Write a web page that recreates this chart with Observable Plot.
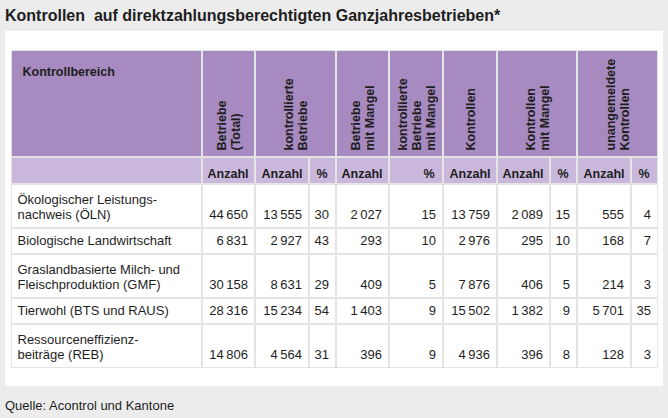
<!DOCTYPE html>
<html>
<head>
<meta charset="utf-8">
<script src="https://cdn.jsdelivr.net/npm/d3@7"></script>
<script src="https://cdn.jsdelivr.net/npm/@observablehq/plot@0.6"></script>
<style>
html, body { margin: 0; padding: 0; background: #ececec; }
body { position: relative; width: 668px; height: 418px; overflow: hidden; font-family: "Liberation Sans", Arial, sans-serif; color: #1e1e1e; }
#title { position: absolute; left: 5px; top: 5.5px; font-size: 16px; line-height: 20px; font-weight: bold; white-space: pre; }
#chart { position: absolute; left: 0; top: 31px; width: 668px; height: 357px; }
#caption { position: absolute; left: 5px; top: 397.5px; font-size: 13px; line-height: 16px; white-space: pre; }
</style>
</head>
<body>
<div id="title"></div>
<div id="chart"></div>
<div id="caption"></div>
<script>
// ---------------- data ----------------
const title = "Kontrollen  auf direktzahlungsberechtigten Ganzjahresbetrieben*";
const source = "Quelle: Acontrol und Kantone";
const firstHeader = "Kontrollbereich";

const categories = [
  "Ökologischer Leistungs-\nnachweis (ÖLN)",
  "Biologische Landwirtschaft",
  "Graslandbasierte Milch- und\nFleischproduktion (GMF)",
  "Tierwohl (BTS und RAUS)",
  "Ressourceneffizienz-\nbeiträge (REB)"
];

const betriebeTotal          = [44650, 6831, 30158, 28316, 14806];
const kontrBetriebe          = [13555, 2927, 8631, 15234, 4564];
const kontrBetriebePct       = [30, 43, 29, 54, 31];
const betriebeMitMangel      = [2027, 293, 409, 1403, 396];
const kontrBetriebeMangelPct = [15, 10, 5, 9, 9];
const kontrollen             = [13759, 2976, 7876, 15502, 4936];
const kontrollenMitMangel    = [2089, 295, 406, 1382, 396];
const kontrollenMangelPct    = [15, 10, 5, 9, 8];
const unangemeldete          = [555, 168, 214, 5701, 128];
const unangemeldetePct       = [4, 7, 3, 35, 3];

const series = [betriebeTotal, kontrBetriebe, kontrBetriebePct, betriebeMitMangel,
  kontrBetriebeMangelPct, kontrollen, kontrollenMitMangel, kontrollenMangelPct,
  unangemeldete, unangemeldetePct];

const units = ["Anzahl", "Anzahl", "%", "Anzahl", "%", "Anzahl", "Anzahl", "%", "Anzahl", "%"];

const columnHeaders = ["Betriebe\n(Total)", "kontrollierte\nBetriebe", "Betriebe\nmit Mangel",
  "kontrollierte\nBetriebe\nmit Mangel", "Kontrollen", "Kontrollen\nmit Mangel", "unangemeldete\nKontrollen"];
const headerSpans = [1, 2, 1, 1, 1, 2, 2];

// ---------------- layout ----------------
const colEdges = [11, 202, 255, 309, 336, 389, 443, 497, 550, 577, 631, 658];
const headTop = 50, headBottom = 157, subBottom = 184;
const rowEdges = [184, 228, 254, 298, 324, 368];
const panel = {x1: 5, x2: 663, y1: 31, y2: 386};
const purple = "#a68ac0", lightPurple = "#c9b8db", gridColor = "#e4e4e4", ink = "#1e1e1e";

document.getElementById("title").textContent = title;
document.getElementById("caption").textContent = source;

const fmt = d3.formatLocale({decimal: ",", thousands: "\u2009", grouping: [3], currency: ["", ""]}).format(",d");

const headCells = [{label: "", x1: colEdges[0], x2: colEdges[1]}];
let c = 1;
columnHeaders.forEach((h, k) => {
  headCells.push({label: h, x1: colEdges[c], x2: colEdges[c + headerSpans[k]]});
  c += headerSpans[k];
});
const subCells = [{label: "", x1: colEdges[0], x2: colEdges[1], unit: ""}]
  .concat(units.map((u, j) => ({label: u, unit: u, x1: colEdges[j + 1], x2: colEdges[j + 2]})));

const labelCells = categories.map((cat, i) => ({text: cat, x1: colEdges[0], x2: colEdges[1], y1: rowEdges[i], y2: rowEdges[i + 1]}));
const valueCells = [];
categories.forEach((cat, i) => {
  series.forEach((s, j) => {
    valueCells.push({
      text: units[j] === "%" ? String(s[i]) : fmt(s[i]),
      x1: colEdges[j + 1], x2: colEdges[j + 2], y1: rowEdges[i], y2: rowEdges[i + 1]
    });
  });
});

const chart = Plot.plot({
  width: 668,
  height: 357,
  margin: 0,
  x: {domain: [0, 668], range: [0, 668], axis: null},
  y: {domain: [31, 388], range: [0, 357], axis: null},
  style: {background: "transparent", fontFamily: "'Liberation Sans', Arial, sans-serif", overflow: "visible"},
  marks: [
    Plot.rect([panel], {x1: "x1", x2: "x2", y1: "y1", y2: "y2", fill: "#ffffff"}),
    Plot.rect([{x1: colEdges[0], x2: colEdges[colEdges.length - 1], y1: headTop, y2: rowEdges[rowEdges.length - 1]}],
      {x1: "x1", x2: "x2", y1: "y1", y2: "y2", fill: gridColor}),
    Plot.rect(headCells, {x1: "x1", x2: "x2", y1: () => headTop, y2: () => headBottom, inset: 1, fill: purple}),
    Plot.rect(subCells, {x1: "x1", x2: "x2", y1: () => headBottom, y2: () => subBottom, inset: 1, fill: lightPurple}),
    Plot.rect(labelCells.concat(valueCells), {x1: "x1", x2: "x2", y1: "y1", y2: "y2", inset: 1, fill: "#ffffff"}),
    // header texts
    Plot.text([firstHeader], {x: () => colEdges[0] + 11, y: () => 75, text: d => d, textAnchor: "start",
      lineAnchor: "bottom", fontSize: 12.5, fontWeight: "bold", fill: ink}),
    Plot.text(headCells.slice(1), {x: d => (d.x1 + d.x2) / 2, y: () => 150, text: "label", rotate: -90,
      textAnchor: "start", lineAnchor: "middle", lineHeight: 1.12, fontSize: 12.5, fontWeight: "bold", fill: ink}),
    Plot.text(subCells.slice(1), {x: d => d.x2 - (d.unit === "%" ? 9 : 7), y: () => 177, text: "label",
      textAnchor: "end", lineAnchor: "bottom", fontSize: 12.5, fontWeight: "bold", fill: ink}),
    // body texts
    Plot.text(labelCells, {x: d => d.x1 + 6, y: d => d.y2 - 9.5, text: "text", textAnchor: "start",
      lineAnchor: "bottom", lineHeight: 15 / 13, fontSize: 13, fill: ink}),
    Plot.text(valueCells, {x: d => d.x2 - 7.5, y: d => d.y2 - 9.5, text: "text", textAnchor: "end",
      lineAnchor: "bottom", fontSize: 13, fill: ink})
  ]
});
document.getElementById("chart").appendChild(chart);
</script>
</body>
</html>
